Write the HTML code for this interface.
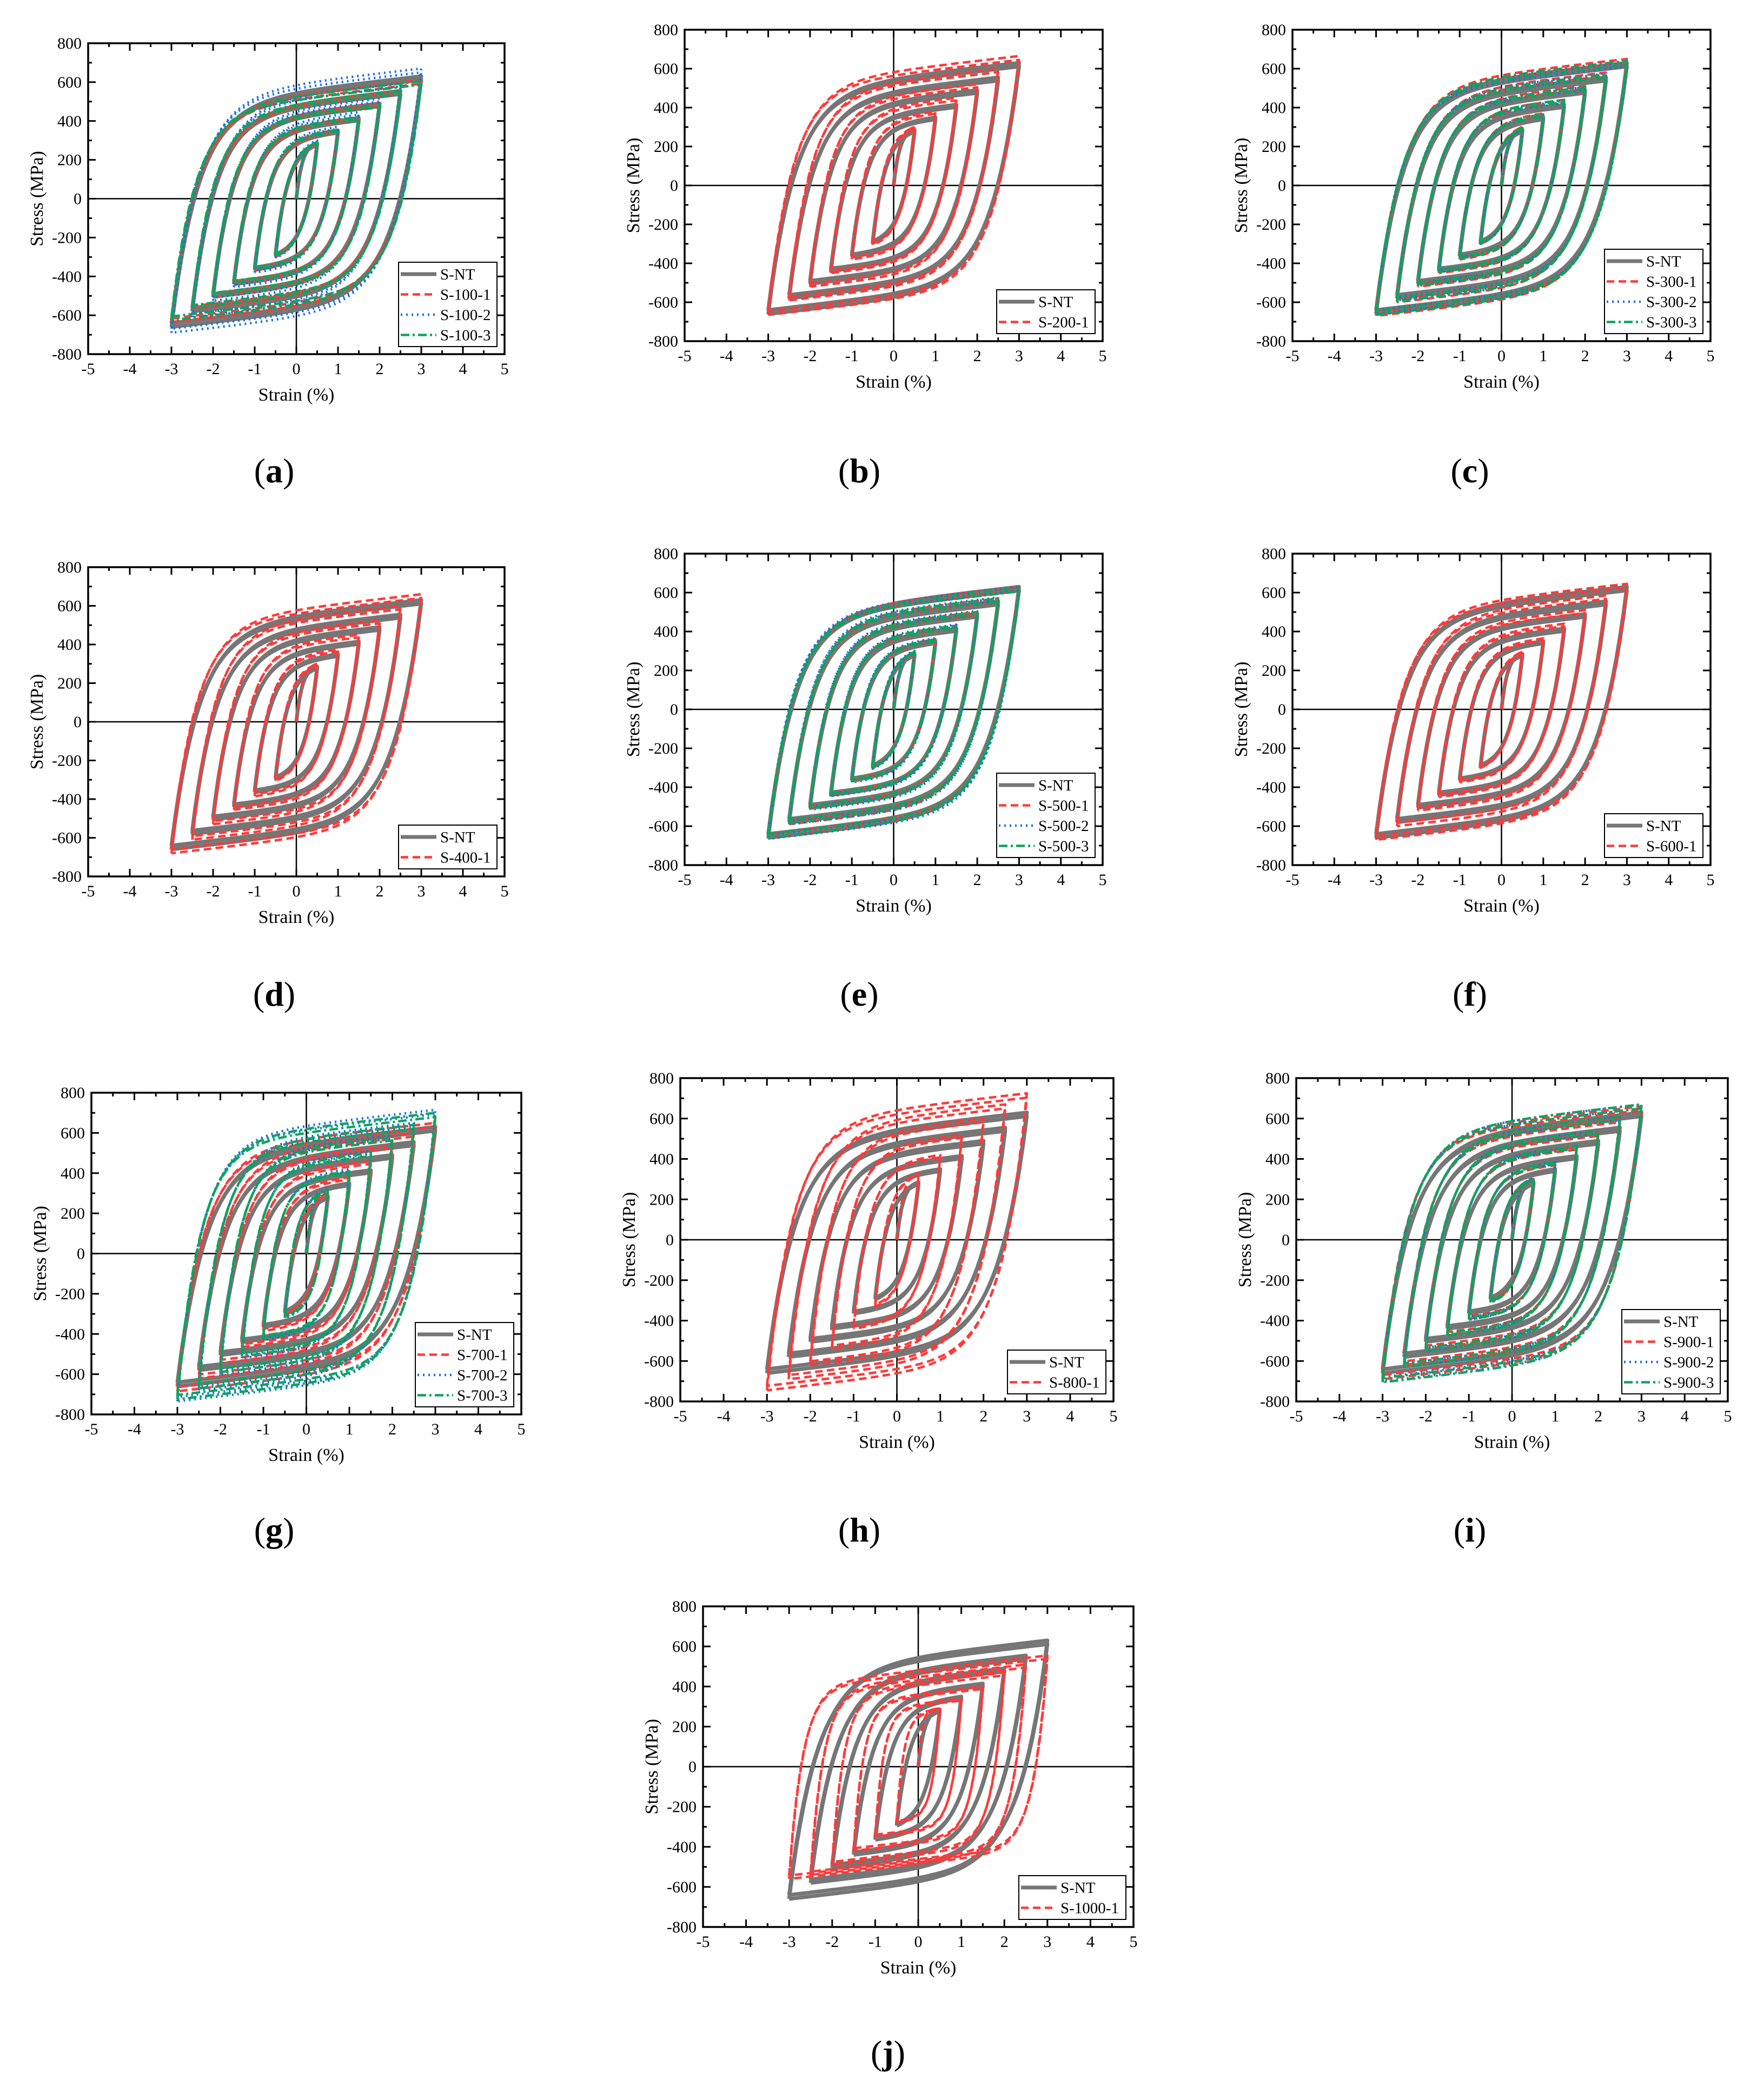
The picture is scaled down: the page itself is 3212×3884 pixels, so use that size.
<!DOCTYPE html>
<html><head><meta charset="utf-8"><style>
html,body{margin:0;padding:0;background:#fff}
svg{display:block}
text{font-family:"Liberation Serif",serif;fill:#000}
</style></head><body>
<svg id="fig" width="3212" height="3884" viewBox="0 0 3212 3884" xmlns="http://www.w3.org/2000/svg"></svg>
<script>
// Strain amplitudes (%) of the loops
const amps=[0.5,1,1.5,2,2.5,3];
// Peak tensile (Max) and compressive magnitude (Min) stresses, MPa
const ntMax=[285,350,415,490,555,630];
const ntMin=[295,365,440,505,580,660];
const s100_1Max=[290,355,420,490,555,610];const s100_1Min=[300,370,440,505,570,635];
const s100_2Max=[300,370,445,515,595,670];const s100_2Min=[305,380,455,525,610,690];
const s100_3Max=[290,355,420,485,555,605];const s100_3Min=[295,365,435,500,565,625];
const s200_1Max=[300,380,450,520,600,665];const s200_1Min=[305,380,450,520,590,665];
const s300_1Max=[300,370,440,510,580,650];const s300_1Min=[300,380,450,520,600,670];
const s300_2Max=[290,365,435,505,575,630];const s300_2Min=[300,375,445,515,590,660];
const s300_3Max=[295,365,440,505,570,640];const s300_3Min=[300,375,445,515,595,665];
const s400_1Max=[300,375,450,525,600,660];const s400_1Min=[305,385,455,530,610,680];
const s500_1Max=[295,360,430,500,570,630];const s500_1Min=[300,370,440,510,590,660];
const s500_2Max=[300,365,435,505,575,630];const s500_2Min=[305,375,445,515,590,665];
const s500_3Max=[295,360,430,500,570,625];const s500_3Min=[300,370,440,510,585,660];
const s600_1Max=[295,365,440,510,585,645];const s600_1Min=[300,375,450,520,600,670];
const s700_1Max=[300,380,460,540,600,650];const s700_1Min=[305,385,465,545,620,685];
const s700_2Max=[320,420,510,590,650,715];const s700_2Min=[320,430,520,600,680,735];
const s700_3Max=[315,410,500,580,640,700];const s700_3Min=[315,420,510,590,670,725];
const s800_1Max=[330,420,520,600,670,725];const s800_1Min=[330,440,540,620,690,745];
const s900_1Max=[300,380,460,530,600,660];const s900_1Min=[305,390,470,540,620,690];
const s900_2Max=[305,385,465,540,610,670];const s900_2Min=[310,395,475,550,630,700];
const s900_3Max=[305,385,465,540,610,670];const s900_3Min=[310,395,475,550,630,705];
const s1000_1Max=[290,340,400,470,510,555];const s1000_1Min=[280,350,420,490,540,560];
const xTicks=[-5,-4,-3,-2,-1,0,1,2,3,4,5];
const yTicks=[-800,-600,-400,-200,0,200,400,600,800];

const NS="http://www.w3.org/2000/svg";
const svg=document.getElementById('fig');
function el(tag,attrs,parent){const e=document.createElementNS(NS,tag);for(const k in attrs)e.setAttribute(k,attrs[k]);(parent||svg).appendChild(e);return e;}

const STY={
 nt:{stroke:'#767676',w:7,dash:''},
 red:{stroke:'#ff3a3a',w:4.5,dash:'14,8'},
 blue:{stroke:'#1a6fe6',w:4.5,dash:'3,7'},
 green:{stroke:'#0fa35f',w:4.5,dash:'16,6,4,6'}
};
const panels=[
 {id:'a',x:163,y:80,w:770,h:575,lx:507,ly:870,series:[['S-NT','nt',ntMax,ntMin,1950],['S-100-1','red',s100_1Max,s100_1Min,2000],['S-100-2','blue',s100_2Max,s100_2Min,2100],['S-100-3','green',s100_3Max,s100_3Min,2100]]},
 {id:'b',x:1266,y:55,w:773,h:576,lx:1589,ly:870,series:[['S-NT','nt',ntMax,ntMin,1950],['S-200-1','red',s200_1Max,s200_1Min,2200]]},
 {id:'c',x:2390,y:55,w:773,h:576,lx:2718,ly:870,series:[['S-NT','nt',ntMax,ntMin,1950],['S-300-1','red',s300_1Max,s300_1Min,2100],['S-300-2','blue',s300_2Max,s300_2Min,2100],['S-300-3','green',s300_3Max,s300_3Min,2100]]},
 {id:'d',x:163,y:1049,w:770,h:572,lx:507,ly:1838,series:[['S-NT','nt',ntMax,ntMin,1950],['S-400-1','red',s400_1Max,s400_1Min,2200]]},
 {id:'e',x:1266,y:1024,w:773,h:576,lx:1589,ly:1838,series:[['S-NT','nt',ntMax,ntMin,1950],['S-500-1','red',s500_1Max,s500_1Min,2050],['S-500-2','blue',s500_2Max,s500_2Min,2150],['S-500-3','green',s500_3Max,s500_3Min,2050]]},
 {id:'f',x:2390,y:1024,w:773,h:576,lx:2718,ly:1838,series:[['S-NT','nt',ntMax,ntMin,1950],['S-600-1','red',s600_1Max,s600_1Min,2100]]},
 {id:'g',x:169,y:2021,w:795,h:595,lx:507,ly:2829,series:[['S-NT','nt',ntMax,ntMin,1950],['S-700-1','red',s700_1Max,s700_1Min,2200],['S-700-2','blue',s700_2Max,s700_2Min,2600],['S-700-3','green',s700_3Max,s700_3Min,2600]]},
 {id:'h',x:1258,y:1994,w:801,h:598,lx:1589,ly:2829,series:[['S-NT','nt',ntMax,ntMin,1950],['S-800-1','red',s800_1Max,s800_1Min,2400]]},
 {id:'i',x:2397,y:1994,w:798,h:598,lx:2718,ly:2829,series:[['S-NT','nt',ntMax,ntMin,1950],['S-900-1','red',s900_1Max,s900_1Min,2300],['S-900-2','blue',s900_2Max,s900_2Min,2300],['S-900-3','green',s900_3Max,s900_3Min,2300]]},
 {id:'j',x:1300,y:2971,w:796,h:593,lx:1642,ly:3796,series:[['S-NT','nt',ntMax,ntMin,1950],['S-1000-1','red',s1000_1Max,s1000_1Min,3400]]}
];

function loopPath(sx,sy,a,smax,smin,E){
  const R=smax+smin,H=25,lam=R/E;
  const B=(R-2*a*H)/(1-Math.exp(-2*a/lam));
  const ds=d=>B*(1-Math.exp(-d/lam))+H*d;
  const N=70;let p='';
  for(let k=0;k<=N;k++){const d=2*a*k/N;const x=-a+d;const y=-smin+ds(d);p+=(k?'L':'M')+sx(x).toFixed(1)+','+sy(y).toFixed(1);}
  for(let k=1;k<=N;k++){const d=2*a*k/N;const x=a-d;const y=smax-ds(d);p+='L'+sx(x).toFixed(1)+','+sy(y).toFixed(1);}
  p+='L'+sx(-a+0.0001).toFixed(1)+','+sy(-smin).toFixed(1);
  return p;
}

panels.forEach(P=>{
  const sx=x=>P.x+(x+5)/10*P.w, sy=y=>P.y+(800-y)/1600*P.h;
  const g=el('g',{});
  
  
  const cp=el('clipPath',{id:'clip'+P.id},g);
  el('rect',{x:P.x,y:P.y,width:P.w,height:P.h},cp);
  const zx=el('line',{x1:sx(0),x2:sx(0),y1:P.y,y2:P.y+P.h,stroke:'#000','stroke-width':2.5},g);
  
  
  const zy=el('line',{x1:P.x,x2:P.x+P.w,y1:sy(0),y2:sy(0),stroke:'#000','stroke-width':2.5},g);
  
  
  const dg=el('g',{'clip-path':'url(#clip'+P.id+')'},g);
  P.series.forEach(s=>{
    const st=STY[s[1]];
    const sg=el('g',{fill:'none',stroke:st.stroke,'stroke-width':st.w,'stroke-dasharray':st.dash,'stroke-linejoin':'round'},dg);
    
    
    const lam0=s[2][0]/s[4];let p0='';
    for(let k=0;k<=30;k++){const x=amps[0]*k/30;const y=s[2][0]*(1-Math.exp(-x/lam0))/(1-Math.exp(-amps[0]/lam0));p0+=(k?'L':'M')+sx(x).toFixed(1)+','+sy(y).toFixed(1);}
    el('path',{d:p0},sg);
    amps.forEach((a,i)=>{
      const pth=el('path',{d:loopPath(sx,sy,a,s[2][i],s[3][i],s[4])},sg);
      
      
      const pth2=el('path',{d:loopPath(sx,sy,a,s[2][i]*0.97,s[3][i]*0.97,s[4])},sg);
      
      
    });
  });
  const fr=el('rect',{x:P.x,y:P.y,width:P.w,height:P.h,fill:'none',stroke:'#000','stroke-width':3.5},g);
  
  
  let tp='';
  for(let v=-5;v<=5;v+=0.5){if(v===-5||v===5)continue;const L=Number.isInteger(v)?14:7;const X=sx(v);tp+=`M${X},${P.y+P.h}v${-L}M${X},${P.y}v${L}`;}
  for(let v=-800;v<=800;v+=100){if(v===-800||v===800)continue;const L=(v%200===0)?14:7;const Y=sy(v);tp+=`M${P.x},${Y}h${L}M${P.x+P.w},${Y}h${-L}`;}
  el('path',{d:tp,stroke:'#000','stroke-width':3,fill:'none'},g);
  xTicks.forEach(v=>{const t=el('text',{x:sx(v),y:P.y+P.h+37,'text-anchor':'middle','font-size':30},g);t.textContent=v;
    
    });
  yTicks.forEach(v=>{const t=el('text',{x:P.x-12,y:sy(v)+10,'text-anchor':'end','font-size':30},g);t.textContent=v;
    
    });
  const xt=el('text',{x:P.x+P.w/2,y:P.y+P.h+86,'text-anchor':'middle','font-size':34},g);xt.textContent='Strain (%)';
  
  
  const yt=el('text',{x:0,y:0,'text-anchor':'middle','font-size':34,transform:`translate(${P.x-84},${P.y+P.h/2}) rotate(-90)`},g);yt.textContent='Stress (MPa)';
  
  
  const maxLen=Math.max(...P.series.map(s=>s[0].length));
  const lw=70+maxLen*16, lh=P.series.length*37.5+6;
  const lx=P.x+P.w-14-lw, ly=P.y+P.h-14-lh;
  const lg=el('g',{},g);
  
  
  el('rect',{x:lx,y:ly,width:lw,height:lh,fill:'#fff',stroke:'#000','stroke-width':2},lg);
  P.series.forEach((s,k)=>{
    const st=STY[s[1]];const yy=ly+22+k*37.5;
    const eg=el('g',{},lg);
    
    
    el('line',{x1:lx+4,x2:lx+70,y1:yy,y2:yy,stroke:st.stroke,'stroke-width':st.w,'stroke-dasharray':st.dash},eg);
    const t=el('text',{x:lx+77,y:yy+10,'font-size':29},eg);t.textContent=s[0];
  });
  const pl=el('text',{x:P.lx,y:P.ly+22,'text-anchor':'middle','font-size':64},g);
  
  
  const t1=el('tspan',{},pl);t1.textContent='(';
  const t2=el('tspan',{'font-weight':'bold'},pl);t2.textContent=P.id;
  const t3=el('tspan',{},pl);t3.textContent=')';
});
</script>
</body></html>
